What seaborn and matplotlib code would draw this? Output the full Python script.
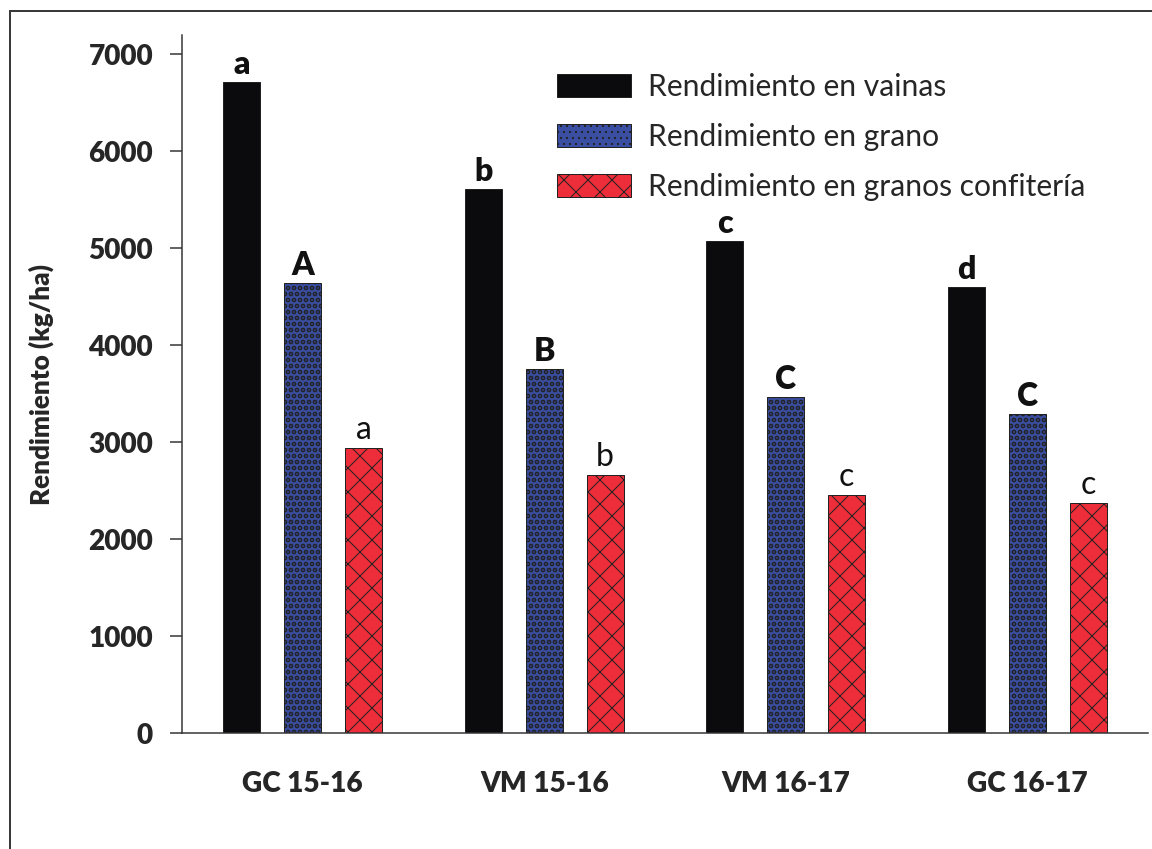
import matplotlib
matplotlib.use("Agg")
import matplotlib.pyplot as plt
import seaborn as sns
import pandas as pd
from matplotlib.patches import Rectangle

sitios = ["GC 15-16", "VM 15-16", "VM 16-17", "GC 16-17"]
series = ["Rendimiento en vainas", "Rendimiento en grano", "Rendimiento en granos confitería"]
vainas = [6720, 5610, 5080, 4600]
grano = [4640, 3750, 3470, 3290]
confiteria = [2940, 2660, 2460, 2375]
letras_vainas = ["a", "b", "c", "d"]
letras_grano = ["A", "B", "C", "C"]
letras_confiteria = ["a", "b", "c", "c"]
y_ticks = [0, 1000, 2000, 3000, 4000, 5000, 6000, 7000]

colores = ["#0b0a0c", "#3a4ea2", "#ee2d3a"]
hatches = [None, "..", "x"]
hatch_lw = [1.0, 3.4, 1.0]

df = pd.DataFrame({
    "sitio": sitios * 3,
    "serie": [series[0]] * 4 + [series[1]] * 4 + [series[2]] * 4,
    "rend": vainas + grano + confiteria,
})

sns.set_style("ticks")
plt.rcParams["font.family"] = ["Lato", "DejaVu Sans"]

fig = plt.figure(figsize=(16, 849 / 72), dpi=72)
ax = fig.add_axes([182 / 1152, 1 - 733 / 849, (1148 - 182) / 1152, 698 / 849])

sns.barplot(data=df, x="sitio", y="rend", hue="serie", palette=colores,
            width=0.756, gap=0.39, saturation=1, legend=False, ax=ax,
            edgecolor="#222222", linewidth=1.0)

letras = [letras_vainas, letras_grano, letras_confiteria]
pesos = ["heavy", "heavy", "normal"]
for cont, h, lw, lab, w in zip(ax.containers, hatches, hatch_lw, letras, pesos):
    for p in cont:
        if h:
            p.set_hatch(h)
        if hasattr(p, "set_hatch_linewidth"):
            p.set_hatch_linewidth(lw)
    ax.bar_label(cont, labels=lab, padding=3, fontsize=32, fontweight=w, color="#111111")

ax.set_xlim(-0.5, 3.5)
ax.set_ylim(0, 7200)
ax.set_yticks(y_ticks)
ax.set_xlabel("")
ax.set_ylabel("Rendimiento (kg/ha)", fontsize=26, fontweight="heavy", labelpad=34)
ax.tick_params(axis="y", length=12, width=1.5, pad=17, labelsize=28, color="#333333")
ax.tick_params(axis="x", length=0, pad=38, labelsize=28)
for lbl in ax.get_xticklabels() + ax.get_yticklabels():
    lbl.set_fontweight("heavy")
sns.despine(ax=ax)
for s in ["left", "bottom"]:
    ax.spines[s].set_linewidth(1.5)
    ax.spines[s].set_color("#333333")

leg = fig.legend(ax.containers, series, loc="upper left",
                 bbox_to_anchor=(557 / 1152, 1 - 73 / 849), frameon=False,
                 fontsize=30, handlelength=2.45, handleheight=0.82,
                 handletextpad=0.6, labelspacing=0.73, borderpad=0, borderaxespad=0)

fig.add_artist(Rectangle((10 / 1152, -0.1), 2, 1.1 - 10.5 / 849, transform=fig.transFigure,
                         fill=False, edgecolor="#3a3a3a", linewidth=2))

fig.savefig("out.png", dpi=72)
